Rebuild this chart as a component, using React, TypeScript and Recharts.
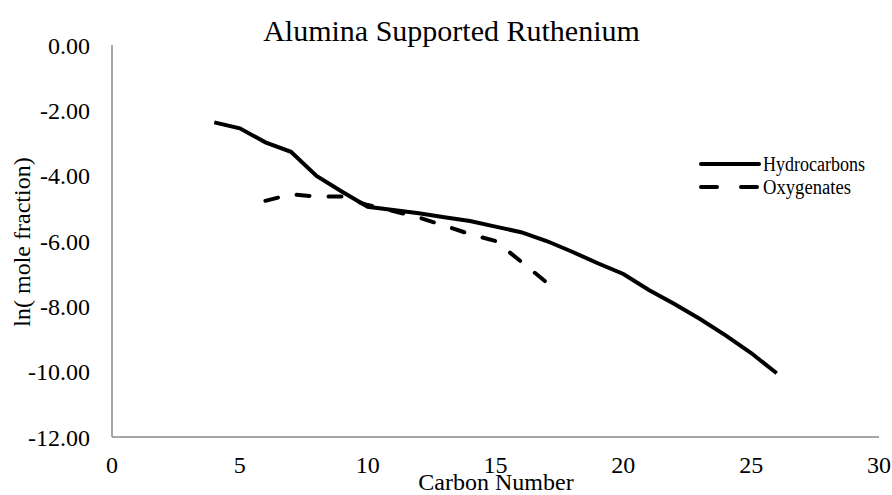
import React from 'react';
import { LineChart, Line, XAxis, YAxis } from 'recharts';

const carbonNumbers = [4, 5, 6, 7, 8, 9, 10, 11, 12, 13, 14, 15, 16, 17, 18, 19, 20, 21, 22, 23, 24, 25, 26];
const hydrocarbons = [-2.37, -2.55, -2.98, -3.27, -4.01, -4.49, -4.95, -5.05, -5.15, -5.27, -5.39, -5.56, -5.73, -6.0, -6.33, -6.68, -7.01, -7.5, -7.93, -8.39, -8.89, -9.43, -10.05];
const oxygenateCarbons = [6, 7, 8, 9, 10, 11, 12, 13, 14, 15, 16, 17];
const oxygenates = [-4.77, -4.57, -4.64, -4.64, -4.9, -5.08, -5.28, -5.53, -5.79, -6.0, -6.63, -7.27];
const xTicks = [0, 5, 10, 15, 20, 25, 30];
const yTicks = [-12, -10, -8, -6, -4, -2, 0];
const seriesNames = ['Hydrocarbons', 'Oxygenates'];

const data = carbonNumbers.map((c, i) => {
  const j = oxygenateCarbons.indexOf(c);
  return { c, hc: hydrocarbons[i], oxy: j >= 0 ? oxygenates[j] : null };
});

const FONT = '"Liberation Serif", "Times New Roman", serif';
const AXIS = '#898989';
const DASH = '13 19';

export default function App() {
  return (
    <div style={{ position: 'absolute', left: 0, top: 0, width: 892, height: 495, background: '#fff' }}>
      <LineChart width={892} height={495} data={data} margin={{ top: 45, right: 13, left: 0, bottom: 0 }}>
        <XAxis
          dataKey="c"
          type="number"
          domain={[0, 30]}
          ticks={xTicks}
          interval={0}
          height={58}
          tickLine={false}
          tickSize={0}
          tickMargin={19}
          axisLine={{ stroke: AXIS, strokeWidth: 1.5 }}
          tick={{ fill: '#000', fontSize: 24, fontFamily: FONT }}
        />
        <YAxis
          type="number"
          domain={[-12, 0]}
          ticks={yTicks}
          interval={0}
          width={112}
          tickLine={false}
          tickSize={0}
          tickMargin={22}
          tickFormatter={(v: number) => v.toFixed(2)}
          axisLine={{ stroke: AXIS, strokeWidth: 1.5 }}
          tick={{ fill: '#000', fontSize: 24, fontFamily: FONT }}
        />
        <Line name={seriesNames[0]} dataKey="hc" type="linear" stroke="#000" strokeWidth={4} dot={false} activeDot={false} isAnimationActive={false} />
        <Line name={seriesNames[1]} dataKey="oxy" type="linear" stroke="#000" strokeWidth={4} strokeDasharray={DASH} strokeLinecap="round" dot={false} activeDot={false} isAnimationActive={false} />
      </LineChart>
      <svg width={892} height={495} style={{ position: 'absolute', left: 0, top: 0, pointerEvents: 'none' }}>
        <text x={451.5} y={41} textAnchor="middle" fontFamily={FONT} fontSize={30} fill="#000">Alumina Supported Ruthenium</text>
        <text x={496} y={490} textAnchor="middle" fontFamily={FONT} fontSize={24} fill="#000">Carbon Number</text>
        <text transform="translate(30,242) rotate(-90)" textAnchor="middle" fontFamily={FONT} fontSize={24} fill="#000">ln( mole fraction)</text>
        <g>
          <line x1={701} y1={164} x2={759} y2={164} stroke="#000" strokeWidth={4} strokeLinecap="round" />
          <text x={763} y={170.5} fontFamily={FONT} fontSize={20} textLength={102} lengthAdjust="spacingAndGlyphs" fill="#000">{seriesNames[0]}</text>
          <line x1={701} y1={187} x2={759} y2={187} stroke="#000" strokeWidth={4} strokeLinecap="round" strokeDasharray="16 24" />
          <text x={763} y={193.5} fontFamily={FONT} fontSize={20} textLength={88} lengthAdjust="spacingAndGlyphs" fill="#000">{seriesNames[1]}</text>
        </g>
      </svg>
    </div>
  );
}
